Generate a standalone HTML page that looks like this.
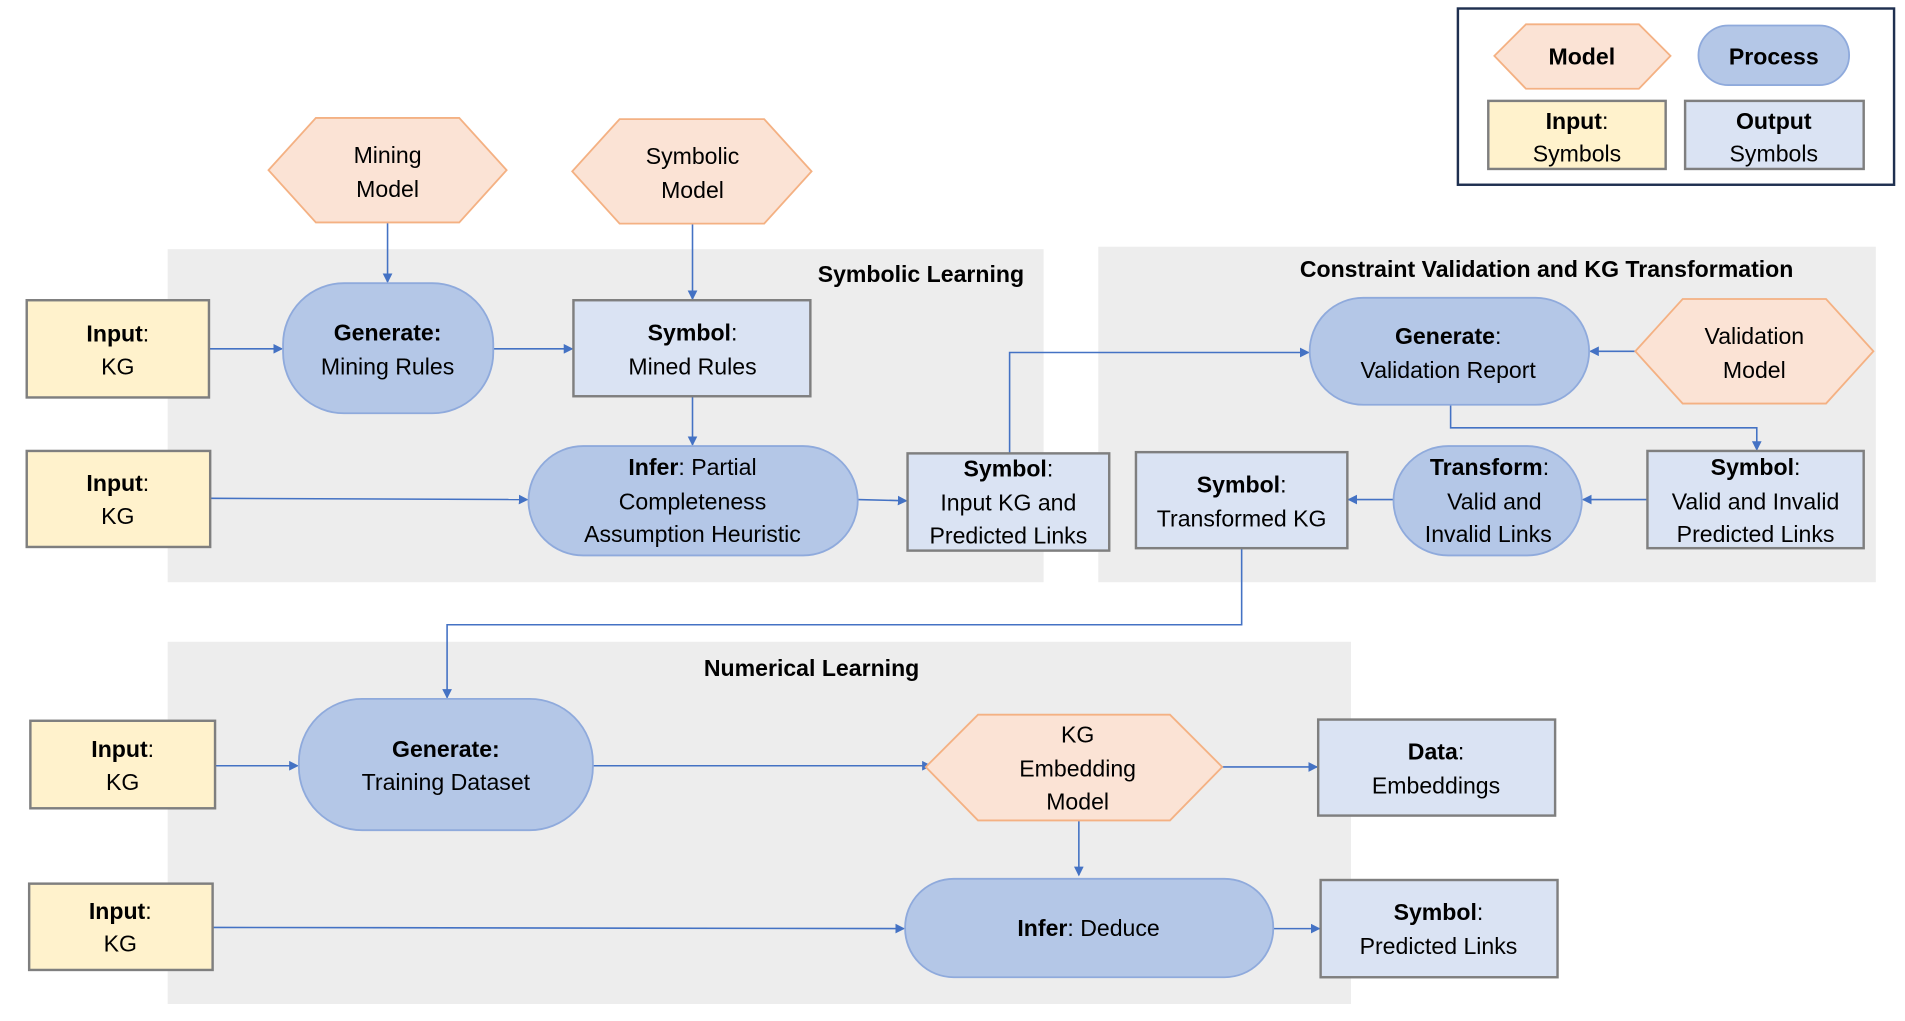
<!DOCTYPE html>
<html><head><meta charset="utf-8"><style>
html,body{margin:0;padding:0;background:#fff;}
svg{display:block;}
text{font-family:"Liberation Sans",sans-serif;font-size:19px;fill:#000;text-anchor:middle;}
.b{font-weight:bold;}
.t{font-weight:bold;font-size:19px;}
.hex{fill:#fbe3d5;stroke:#f4b183;stroke-width:1.5;}
.pill{fill:#b4c7e7;stroke:#8faadc;stroke-width:1.5;}
.in{fill:#fff2cc;stroke:#7f7f7f;stroke-width:2;}
.out{fill:#dae3f3;stroke:#7f7f7f;stroke-width:2;}
.ln{fill:none;stroke:#4472c4;stroke-width:1.3;marker-end:url(#a);}
.reg{fill:#ededed;}
</style></head><body>
<svg width="1905" height="1021" viewBox="0 0 1568 840" preserveAspectRatio="none">
<defs><marker id="a" markerWidth="8" markerHeight="8" refX="7" refY="4" orient="auto" markerUnits="userSpaceOnUse"><path d="M0,0 L8,4 L0,8 z" fill="#4472c4"/></marker></defs>
<!-- regions -->
<rect class="reg" x="138" y="205" width="721" height="274"/>
<rect class="reg" x="904" y="203" width="640" height="276"/>
<rect class="reg" x="138" y="528" width="974" height="298"/>
<text class="t" x="758" y="232">Symbolic Learning</text>
<text class="t" x="1273" y="228">Constraint Validation and KG Transformation</text>
<text class="t" x="668" y="556">Numerical Learning</text>
<!-- legend -->
<rect x="1200" y="7" width="359" height="145" fill="#fff" stroke="#1f3050" stroke-width="2"/>
<polygon class="hex" points="1230,46 1256,20 1349,20 1375,46 1349,73 1256,73"/>
<text class="b" x="1302" y="53">Model</text>
<rect class="pill" x="1398" y="21" width="124" height="49" rx="24.5"/>
<text class="b" x="1460" y="53">Process</text>
<rect class="in" x="1225" y="83" width="146" height="56"/>
<text x="1298" y="106"><tspan class="b">Input</tspan>:</text><text x="1298" y="133">Symbols</text>
<rect class="out" x="1387" y="83" width="147" height="56"/>
<text class="b" x="1460" y="106">Output</text><text x="1460" y="133">Symbols</text>
<!-- connectors -->
<path class="ln" d="M172,287 L232,287"/>
<path class="ln" d="M319,183 L319,232"/>
<path class="ln" d="M406,287 L471,287"/>
<path class="ln" d="M570,184 L570,246"/>
<path class="ln" d="M570,326 L570,366"/>
<path class="ln" d="M173,410 L434,411"/>
<path class="ln" d="M706,411 L746,412"/>
<path class="ln" d="M831,373 L831,290 L1077,290"/>
<path class="ln" d="M1346,289 L1309,289"/>
<path class="ln" d="M1194,333 L1194,352 L1446,352 L1446,370"/>
<path class="ln" d="M1356,411 L1303,411"/>
<path class="ln" d="M1147,411 L1110,411"/>
<path class="ln" d="M1022,451 L1022,514 L368,514 L368,574"/>
<path class="ln" d="M177,630 L245,630"/>
<path class="ln" d="M488,630 L766,630"/>
<path class="ln" d="M1006,631 L1084,631"/>
<path class="ln" d="M888,675 L888,720"/>
<path class="ln" d="M175,763 L744,764"/>
<path class="ln" d="M1048,764 L1086,764"/>
<!-- hexagons -->
<polygon class="hex" points="221,140 260,97 378,97 417,140 378,183 260,183"/>
<text x="319" y="134">Mining</text><text x="319" y="162">Model</text>
<polygon class="hex" points="471,141 510,98 629,98 668,141 629,184 510,184"/>
<text x="570" y="135">Symbolic</text><text x="570" y="163">Model</text>
<polygon class="hex" points="1346,289 1385,246 1503,246 1542,289 1503,332 1385,332"/>
<text x="1444" y="283">Validation</text><text x="1444" y="311">Model</text>
<polygon class="hex" points="762,631 805,588 963,588 1006,631 963,675 805,675"/>
<text x="887" y="611">KG</text><text x="887" y="639">Embedding</text><text x="887" y="666">Model</text>
<!-- inputs -->
<rect class="in" x="22" y="247" width="150" height="80"/>
<text x="97" y="281"><tspan class="b">Input</tspan>:</text><text x="97" y="308">KG</text>
<rect class="in" x="22" y="371" width="151" height="79"/>
<text x="97" y="404"><tspan class="b">Input</tspan>:</text><text x="97" y="431">KG</text>
<rect class="in" x="25" y="593" width="152" height="72"/>
<text x="101" y="623"><tspan class="b">Input</tspan>:</text><text x="101" y="650">KG</text>
<rect class="in" x="24" y="727" width="151" height="71"/>
<text x="99" y="756"><tspan class="b">Input</tspan>:</text><text x="99" y="783">KG</text>
<!-- pills -->
<rect class="pill" x="233" y="233" width="173" height="107" rx="50"/>
<text class="b" x="319" y="280">Generate:</text><text x="319" y="308">Mining Rules</text>
<rect class="pill" x="435" y="367" width="271" height="90" rx="45"/>
<text x="570" y="391"><tspan class="b">Infer</tspan>: Partial</text><text x="570" y="419">Completeness</text><text x="570" y="446">Assumption Heuristic</text>
<rect class="pill" x="1078" y="245" width="230" height="88" rx="44"/>
<text x="1192" y="283"><tspan class="b">Generate</tspan>:</text><text x="1192" y="311">Validation Report</text>
<rect class="pill" x="1147" y="367" width="155" height="90" rx="45"/>
<text x="1226" y="391"><tspan class="b">Transform</tspan>:</text><text x="1230" y="419">Valid and</text><text x="1225" y="446">Invalid Links</text>
<rect class="pill" x="246" y="575" width="242" height="108" rx="52"/>
<text class="b" x="367" y="623">Generate:</text><text x="367" y="650">Training Dataset</text>
<rect class="pill" x="745" y="723" width="303" height="81" rx="40"/>
<text x="896" y="770"><tspan class="b">Infer</tspan>: Deduce</text>
<!-- outputs -->
<rect class="out" x="472" y="247" width="195" height="79"/>
<text x="570" y="280"><tspan class="b">Symbol</tspan>:</text><text x="570" y="308">Mined Rules</text>
<rect class="out" x="747" y="373" width="166" height="80"/>
<text x="830" y="392"><tspan class="b">Symbol</tspan>:</text><text x="830" y="420">Input KG and</text><text x="830" y="447">Predicted Links</text>
<rect class="out" x="935" y="372" width="174" height="79"/>
<text x="1022" y="405"><tspan class="b">Symbol</tspan>:</text><text x="1022" y="433">Transformed KG</text>
<rect class="out" x="1356" y="371" width="178" height="80"/>
<text x="1445" y="391"><tspan class="b">Symbol</tspan>:</text><text x="1445" y="419">Valid and Invalid</text><text x="1445" y="446">Predicted Links</text>
<rect class="out" x="1085" y="592" width="195" height="79"/>
<text x="1182" y="625"><tspan class="b">Data</tspan>:</text><text x="1182" y="653">Embeddings</text>
<rect class="out" x="1087" y="724" width="195" height="80"/>
<text x="1184" y="757"><tspan class="b">Symbol</tspan>:</text><text x="1184" y="785">Predicted Links</text>
</svg>
</body></html>
